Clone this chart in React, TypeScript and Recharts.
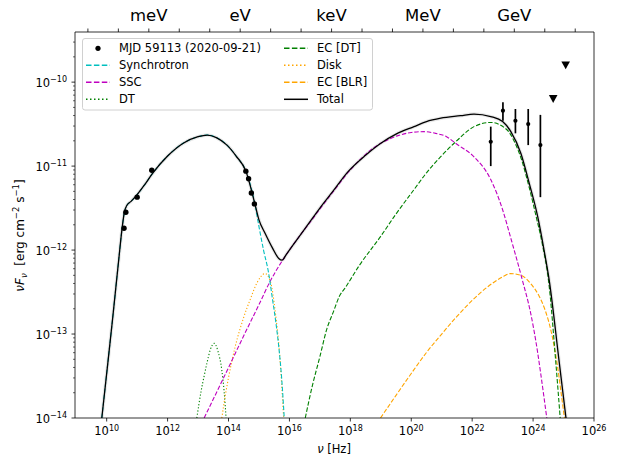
import { ComposedChart, Line, Scatter, ErrorBar, XAxis, YAxis } from 'recharts';

// all values as [log10 nu (Hz), log10 nuFnu (erg cm^-2 s^-1)]
const synchrotron: number[][] = [
  [9.84, -14], [10.0, -13.47], [10.2, -12.8], [10.4, -12.1], [10.5, -11.76], [10.58, -11.55],
  [10.66, -11.47], [10.8, -11.42], [11.0, -11.34], [11.25, -11.22], [11.5, -11.09], [12.0, -10.88],
  [12.5, -10.73], [13.0, -10.65], [13.3, -10.63], [13.6, -10.66], [13.95, -10.75], [14.25, -10.88],
  [14.57, -11.06], [14.86, -11.44], [15.0, -11.72], [15.15, -12.0], [15.32, -12.28], [15.43, -12.55],
  [15.55, -12.85], [15.65, -13.15], [15.75, -13.55], [15.83, -14],
];
const ssc: number[][] = [
  [13.2, -14], [14.0, -13.4], [14.5, -13.02], [15.0, -12.65], [15.37, -12.37], [15.76, -12.13],
  [16.0, -12.0], [16.4, -11.8], [16.8, -11.61], [17.0, -11.51], [17.45, -11.3], [17.89, -11.09],
  [18.3, -10.93], [18.66, -10.81], [19.1, -10.71], [19.54, -10.64], [20.0, -10.6], [20.42, -10.59],
  [20.8, -10.61], [21.16, -10.65], [21.5, -10.74], [22.06, -10.89], [22.61, -11.16], [23.0, -11.52],
  [23.27, -11.86], [23.65, -12.36], [23.92, -12.75], [24.15, -13.22], [24.25, -13.47], [24.45, -14],
];
const dt: number[][] = [
  [12.96, -14], [13.1, -13.68], [13.2, -13.5], [13.29, -13.35], [13.4, -13.19], [13.53, -13.11],
  [13.65, -13.2], [13.78, -13.43], [13.86, -13.7], [13.92, -14],
];
const ecDt: number[][] = [
  [16.52, -14], [16.75, -13.62], [17.0, -13.27], [17.22, -12.95], [17.45, -12.73], [17.64, -12.55],
  [17.83, -12.45], [18.3, -12.18], [18.99, -11.84], [19.5, -11.57], [20.09, -11.28], [20.5, -11.08],
  [20.96, -10.89], [21.46, -10.71], [22.06, -10.53], [22.61, -10.48], [23.15, -10.57], [23.4, -10.72],
  [23.6, -10.9], [23.87, -11.25], [24.1, -11.6], [24.3, -11.92], [24.52, -12.4], [24.74, -13.31],
  [24.89, -14],
];
const disk: number[][] = [
  [13.78, -14], [13.9, -13.72], [14.0, -13.52], [14.22, -13.15], [14.5, -12.8], [14.71, -12.59],
  [14.95, -12.38], [15.2, -12.28], [15.38, -12.38], [15.54, -12.75], [15.68, -13.25], [15.81, -14],
];
const ecBlr: number[][] = [
  [18.99, -14], [19.5, -13.73], [20.0, -13.47], [20.5, -13.22], [21.0, -13.0], [21.5, -12.79],
  [22.0, -12.6], [22.5, -12.44], [23.0, -12.32], [23.26, -12.28], [23.6, -12.3], [23.92, -12.4],
  [24.2, -12.55], [24.4, -12.72], [24.6, -12.98], [24.8, -13.38], [24.92, -13.7], [25.03, -14],
];
const total: number[][] = [
  [9.84, -14], [10.0, -13.47], [10.2, -12.8], [10.4, -12.1], [10.5, -11.76], [10.58, -11.55],
  [10.66, -11.47], [10.8, -11.42], [11.0, -11.34], [11.25, -11.22], [11.5, -11.09], [12.0, -10.88],
  [12.5, -10.73], [13.0, -10.65], [13.3, -10.63], [13.6, -10.66], [13.95, -10.75], [14.25, -10.88],
  [14.57, -11.06], [14.86, -11.44], [15.0, -11.64], [15.2, -11.8], [15.45, -11.98], [15.65, -12.1],
  [15.76, -12.12], [15.9, -12.05], [16.2, -11.9], [16.8, -11.6], [17.0, -11.5], [17.45, -11.29],
  [17.89, -11.08], [18.5, -10.87], [18.99, -10.73], [19.5, -10.62], [20.09, -10.53], [20.5, -10.47],
  [20.97, -10.43], [21.62, -10.4], [22.06, -10.38], [22.61, -10.41], [23.0, -10.47], [23.27, -10.59],
  [23.6, -10.85], [23.87, -11.2], [24.15, -11.6], [24.36, -12.0], [24.53, -12.36], [24.85, -13.31],
  [25.08, -14],
];

// MJD 59113 observations
const radioOptical: number[][] = [
  [10.57, -11.74], [10.63, -11.55], [11.0, -11.37], [11.48, -11.05],
  [14.57, -11.06], [14.66, -11.15], [14.75, -11.32], [14.85, -11.45],
];
// [log nu, log flux, log low, log high]
const fermi: number[][] = [
  [22.61, -10.71, -11.0, -10.53],
  [23.01, -10.34, -10.46, -10.24],
  [23.42, -10.46, -10.61, -10.32],
  [23.84, -10.5, -10.75, -10.32],
  [24.24, -10.75, -11.37, -10.39],
];
const upperLimits: number[][] = [[24.66, -10.2], [25.07, -9.8]];

const bottomTickExps = [10, 12, 14, 16, 18, 20, 22, 24, 26];
const leftTickExps = [-14, -13, -12, -11, -10];
const topTickExps = [-5, -4, -3, -2, -1, 0, 1, 2, 3, 4, 5, 6, 7, 8, 9, 10, 11]; // log10(E / eV)
const topTickLabels: Record<string, string> = { '-3': 'meV', '0': 'eV', '3': 'keV', '6': 'MeV', '9': 'GeV' };

const LOG_EV_TO_HZ = 14.3836;
const X_DOMAIN: [number, number] = [10 ** 8.96, 1e26];
const Y_DOMAIN: [number, number] = [1e-14, 10 ** -9.403];
const FONT = '"DejaVu Sans", sans-serif';

const pts = (arr: number[][]) => arr.map(([lx, ly]) => ({ x: 10 ** lx, y: 10 ** ly }));

const bottomTicks = bottomTickExps.map((e) => 10 ** e);
const topTicks = topTickExps.map((e) => 10 ** (e + LOG_EV_TO_HZ));
const leftTicks: number[] = [];
leftTickExps.forEach((e) => {
  for (let m = 1; m <= 9; m++) {
    const v = m * 10 ** e;
    if (v <= Y_DOMAIN[1]) leftTicks.push(v);
  }
});

const fermiData = fermi.map(([lx, ly, lo, hi]) => {
  const y = 10 ** ly;
  return { x: 10 ** lx, y, err: [y - 10 ** lo, 10 ** hi - y] };
});

function BottomTick({ x, y, payload }: any) {
  const e = Math.round(Math.log10(payload.value));
  return (
    <g>
      <line x1={x} y1={y} x2={x} y2={y + 3.5} stroke="#000" strokeWidth={0.8} />
      <text x={x} y={y + 17} textAnchor="middle" fontSize={11.5} fontFamily={FONT} fill="#000">
        10<tspan dy={-4.5} fontSize={8}>{e}</tspan>
      </text>
    </g>
  );
}

function LeftTick({ x, y, payload }: any) {
  const lg = Math.log10(payload.value);
  const major = Math.abs(lg - Math.round(lg)) < 1e-6;
  return (
    <g>
      <line x1={x - (major ? 3.5 : 2)} y1={y} x2={x} y2={y} stroke="#000" strokeWidth={major ? 0.8 : 0.6} />
      {major && (
        <text x={x - 8} y={y + 4.5} textAnchor="end" fontSize={11.5} fontFamily={FONT} fill="#000">
          10<tspan dy={-4.5} fontSize={8}>{'\u2212' + Math.abs(Math.round(lg))}</tspan>
        </text>
      )}
    </g>
  );
}

function TopTick({ x, y, payload }: any) {
  const e = Math.round(Math.log10(payload.value) - LOG_EV_TO_HZ);
  const label = topTickLabels[String(e)];
  return (
    <g>
      <line x1={x} y1={y - 3.5} x2={x} y2={y} stroke="#000" strokeWidth={0.8} />
      {label && (
        <text x={x} y={y - 11} textAnchor="middle" fontSize={16.5} fontFamily={FONT} fill="#000">
          {label}
        </text>
      )}
    </g>
  );
}

const Dot = (r: number) => (p: any) => <circle cx={p.cx} cy={p.cy} r={r} fill="#000" />;
const Tri = (p: any) => (
  <path d={`M${p.cx - 4.3},${p.cy - 3.8}L${p.cx + 4.3},${p.cy - 3.8}L${p.cx},${p.cy + 4}Z`} fill="#000" />
);

const DASH = '4.4 1.9';
const DOT = '1.2 2';

const legendRows = [
  { col: 0, row: 0, label: 'MJD 59113 (2020-09-21)', color: '#000', kind: 'dot' },
  { col: 0, row: 1, label: 'Synchrotron', color: '#00bfbf', kind: 'dash' },
  { col: 0, row: 2, label: 'SSC', color: '#bf00bf', kind: 'dash' },
  { col: 0, row: 3, label: 'DT', color: '#008000', kind: 'dot-line' },
  { col: 1, row: 0, label: 'EC [DT]', color: '#008000', kind: 'dash' },
  { col: 1, row: 1, label: 'Disk', color: '#ffa500', kind: 'dot-line' },
  { col: 1, row: 2, label: 'EC [BLR]', color: '#ffa500', kind: 'dash' },
  { col: 1, row: 3, label: 'Total', color: '#000', kind: 'solid' },
];

function LegendBox() {
  return (
    <svg width={292} height={73} style={{ position: 'absolute', left: 82, top: 38, overflow: 'visible' }}>
      <rect x={0.5} y={0.5} width={290} height={71.5} rx={2.5} fill="rgba(255,255,255,0.8)" stroke="#d0d0d0" />
      {legendRows.map((it) => {
        const hx = it.col === 0 ? 4 : 202;
        const cy = 10.3 + it.row * 17;
        return (
          <g key={it.label}>
            {it.kind === 'dot' ? (
              <circle cx={hx + 12} cy={cy} r={2.6} fill="#000" />
            ) : (
              <line
                x1={hx}
                y1={cy}
                x2={hx + 24}
                y2={cy}
                stroke={it.color}
                strokeWidth={1.5}
                strokeDasharray={it.kind === 'dash' ? '5.5 2.4' : it.kind === 'dot-line' ? '1.5 2.5' : undefined}
              />
            )}
            <text x={hx + 33} y={cy + 4} fontSize={11.5} fontFamily={FONT} fill="#000">
              {it.label}
            </text>
          </g>
        );
      })}
    </svg>
  );
}

export default function App() {
  const common = { xAxisId: 'b', yAxisId: 'l', dataKey: 'y', dot: false, isAnimationActive: false, type: 'monotone' as const };
  return (
    <div style={{ position: 'absolute', left: 0, top: 0, width: 619, height: 460, background: '#fff' }}>
      <ComposedChart width={619} height={460} margin={{ top: 0, right: 0, bottom: 0, left: 0 }}>
        <XAxis
          xAxisId="b"
          dataKey="x"
          type="number"
          scale="log"
          domain={X_DOMAIN}
          allowDataOverflow
          ticks={bottomTicks}
          interval={0}
          tick={<BottomTick />}
          tickSize={0}
          tickMargin={0}
          tickLine={false}
          height={42}
          axisLine={{ stroke: '#000', strokeWidth: 0.8 }}
          label={{
            content: () => (
              <text x={334} y={453} textAnchor="middle" fontSize={11.5} fontFamily={FONT} fill="#000">
                <tspan fontStyle="italic">ν</tspan> [Hz]
              </text>
            ),
          }}
        />
        <XAxis
          xAxisId="t"
          orientation="top"
          dataKey="x"
          type="number"
          scale="log"
          domain={X_DOMAIN}
          allowDataOverflow
          ticks={topTicks}
          interval={0}
          tick={<TopTick />}
          tickSize={0}
          tickMargin={0}
          tickLine={false}
          height={32}
          axisLine={{ stroke: '#000', strokeWidth: 0.8 }}
        />
        <YAxis
          yAxisId="l"
          dataKey="y"
          type="number"
          scale="log"
          domain={Y_DOMAIN}
          allowDataOverflow
          ticks={leftTicks}
          interval={0}
          tick={<LeftTick />}
          tickSize={0}
          tickMargin={0}
          tickLine={false}
          width={75}
          axisLine={{ stroke: '#000', strokeWidth: 0.8 }}
          label={{
            content: () => (
              <text
                x={23.5}
                y={235.5}
                transform="rotate(-90 23.5 235.5)"
                textAnchor="middle"
                fontSize={12}
                fontFamily={FONT}
                fill="#000"
              >
                <tspan fontStyle="italic">νF</tspan>
                <tspan dy={3} fontSize={8.5} fontStyle="italic">ν</tspan>
                <tspan dy={-3}>{'\u00a0\u00a0[erg cm'}</tspan>
                <tspan dy={-4.5} fontSize={8.5}>−2</tspan>
                <tspan dy={4.5}> s</tspan>
                <tspan dy={-4.5} fontSize={8.5}>−1</tspan>
                <tspan dy={4.5}>]</tspan>
              </text>
            ),
          }}
        />
        <YAxis
          yAxisId="r"
          orientation="right"
          type="number"
          scale="log"
          domain={Y_DOMAIN}
          allowDataOverflow
          tick={false}
          tickLine={false}
          width={25}
          axisLine={{ stroke: '#000', strokeWidth: 0.8 }}
        />

        <Line {...common} data={pts(total)} stroke="#e8e8e8" strokeWidth={3.5} />
        <Line {...common} data={pts(dt)} stroke="#008000" strokeWidth={1.1} strokeDasharray={DOT} />
        <Line {...common} data={pts(disk)} stroke="#ffa500" strokeWidth={1.1} strokeDasharray={DOT} />
        <Line {...common} data={pts(ecBlr)} stroke="#ffa500" strokeWidth={1.1} strokeDasharray={DASH} />
        <Line {...common} data={pts(ecDt)} stroke="#008000" strokeWidth={1.1} strokeDasharray={DASH} />
        <Line {...common} data={pts(ssc)} stroke="#bf00bf" strokeWidth={1.1} strokeDasharray={DASH} />
        <Line {...common} data={pts(synchrotron)} stroke="#00bfbf" strokeWidth={1.1} strokeDasharray={DASH} />
        <Line {...common} data={pts(total)} stroke="#000" strokeWidth={1.3} />

        <Scatter xAxisId="b" yAxisId="l" dataKey="y" data={pts(radioOptical)} shape={Dot(2.7)} isAnimationActive={false} />
        <Scatter xAxisId="b" yAxisId="l" dataKey="y" data={fermiData} shape={Dot(2.1)} isAnimationActive={false}>
          <ErrorBar dataKey="err" direction="y" width={0} stroke="#000" strokeWidth={1.7} />
        </Scatter>
        <Scatter xAxisId="b" yAxisId="l" dataKey="y" data={pts(upperLimits)} shape={Tri} isAnimationActive={false} />
      </ComposedChart>
      <LegendBox />
    </div>
  );
}
